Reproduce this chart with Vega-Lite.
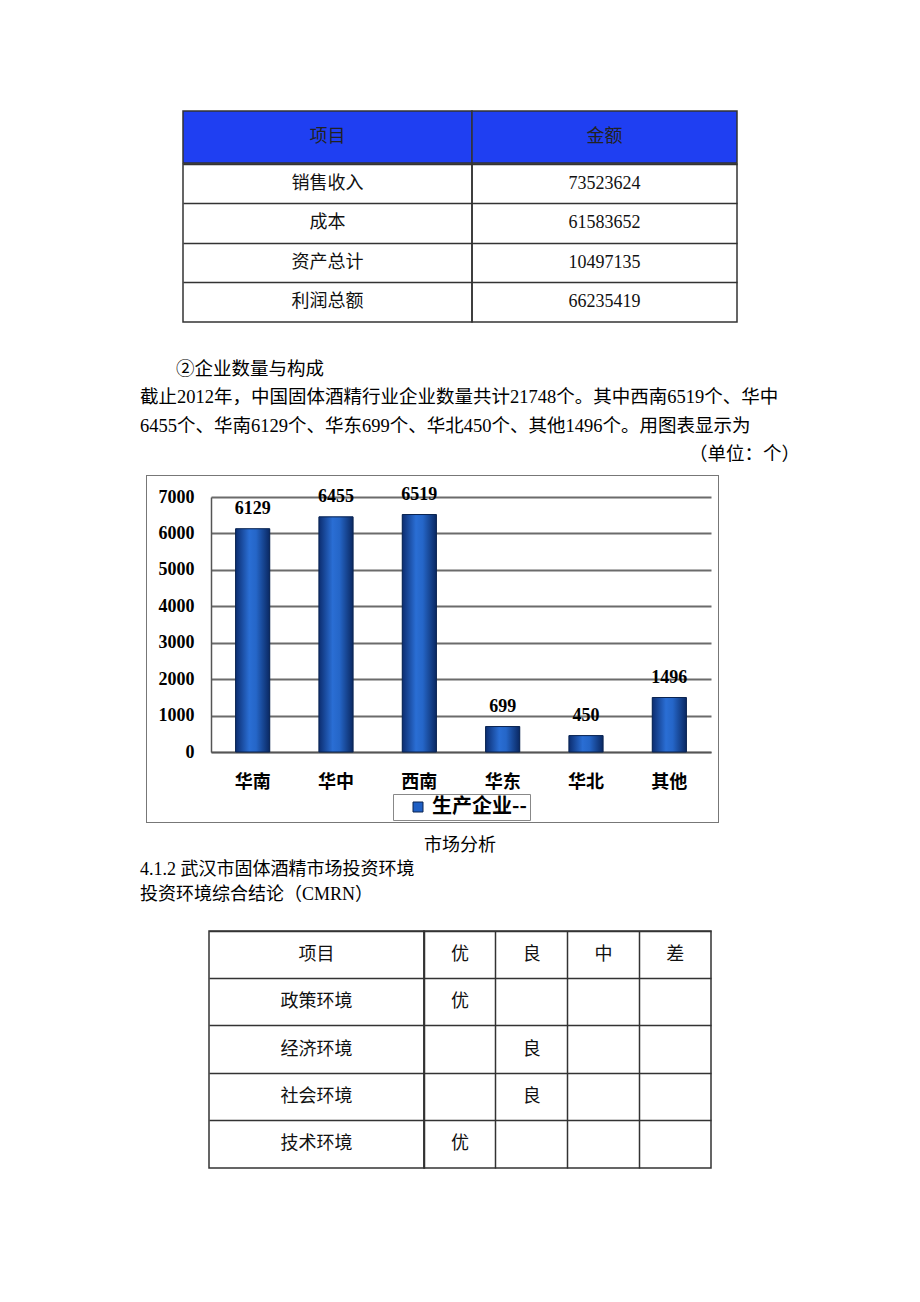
{
  "$schema": "https://vega.github.io/schema/vega-lite/v6.json",
  "background": "white",
  "padding": 0,
  "spacing": 0,
  "resolve": {"scale": {"color": "independent"}, "legend": {"color": "independent"}},
  "config": {
    "view": {"stroke": null},
    "legend": {"layout": {"bottom": {"anchor": "middle"}}}
  },
  "datasets": {
    "table1": [
      {"item": "销售收入", "amount": "73523624"},
      {"item": "成本", "amount": "61583652"},
      {"item": "资产总计", "amount": "10497135"},
      {"item": "利润总额", "amount": "66235419"}
    ],
    "companies": [
      {"region": "华南", "count": 6129, "series": "生产企业--"},
      {"region": "华中", "count": 6455, "series": "生产企业--"},
      {"region": "西南", "count": 6519, "series": "生产企业--"},
      {"region": "华东", "count": 699, "series": "生产企业--"},
      {"region": "华北", "count": 450, "series": "生产企业--"},
      {"region": "其他", "count": 1496, "series": "生产企业--"}
    ],
    "table2items": [
      {"item": "项目"}, {"item": "政策环境"}, {"item": "经济环境"}, {"item": "社会环境"}, {"item": "技术环境"}
    ],
    "table2cells": [
      {"item": "项目", "grade": "优", "v": "优"},
      {"item": "项目", "grade": "良", "v": "良"},
      {"item": "项目", "grade": "中", "v": "中"},
      {"item": "项目", "grade": "差", "v": "差"},
      {"item": "政策环境", "grade": "优", "v": "优"},
      {"item": "经济环境", "grade": "良", "v": "良"},
      {"item": "社会环境", "grade": "良", "v": "良"},
      {"item": "技术环境", "grade": "优", "v": "优"}
    ]
  },
  "vconcat": [
    {"width": 920, "height": 109.5, "data": {"values": []}, "mark": "point"},
    {
      "spacing": -3,
      "vconcat": [
        {
          "spacing": 0, "bounds": "flush",
          "hconcat": [
            {"width": 183, "height": 52, "data": {"values": []}, "mark": "point"},
            {"width": 289, "height": 52, "view": {"fill": "#1f3ff2", "stroke": "#333333", "strokeWidth": 1.5},
             "data": {"values": [{"h": "项目"}]},
             "mark": {"type": "text", "font": "Liberation Serif, Noto Sans CJK SC", "fontSize": 18, "color": "#222222"},
             "encoding": {"text": {"field": "h"}}},
            {"width": 265, "height": 52, "view": {"fill": "#1f3ff2", "stroke": "#333333", "strokeWidth": 1.5},
             "data": {"values": [{"h": "金额"}]},
             "mark": {"type": "text", "font": "Liberation Serif, Noto Sans CJK SC", "fontSize": 18, "color": "#222222"},
             "encoding": {"text": {"field": "h"}}}
          ]
        },
        {
          "spacing": 0, "bounds": "flush",
          "hconcat": [
            {"width": 183, "height": 158, "data": {"values": []}, "mark": "point"},
            {"width": 289, "height": 158, "view": {"stroke": "#333333", "strokeWidth": 1.5},
             "data": {"name": "table1"},
             "mark": {"type": "text", "font": "Liberation Serif, Noto Sans CJK SC", "fontSize": 18, "color": "#111111"},
             "encoding": {
               "y": {"field": "item", "type": "nominal", "sort": null,
                     "scale": {"type": "band", "paddingInner": 0, "paddingOuter": 0},
                     "axis": {"title": null, "labels": false, "ticks": false, "domain": false, "grid": true, "bandPosition": 0, "gridColor": "#333333", "gridWidth": 1.5}},
               "text": {"field": "item"}
             }},
            {"width": 265, "height": 158, "view": {"stroke": "#333333", "strokeWidth": 1.5},
             "data": {"name": "table1"},
             "mark": {"type": "text", "font": "Liberation Serif, Noto Sans CJK SC", "fontSize": 18, "color": "#111111"},
             "encoding": {
               "y": {"field": "item", "type": "nominal", "sort": null,
                     "scale": {"type": "band", "paddingInner": 0, "paddingOuter": 0},
                     "axis": {"title": null, "labels": false, "ticks": false, "domain": false, "grid": true, "bandPosition": 0, "gridColor": "#333333", "gridWidth": 1.5}},
               "text": {"field": "amount"}
             }}
          ]
        }
      ]
    },
    {"width": 920, "height": 31.5, "data": {"values": []}, "mark": "point"},
    {
      "spacing": 0, "bounds": "flush",
      "hconcat": [
        {"width": 140, "height": 113, "data": {"values": []}, "mark": "point"},
        {
          "width": 660, "height": 113,
          "encoding": {
            "y": {"field": "n", "type": "ordinal", "scale": {"type": "band", "paddingInner": 0, "paddingOuter": 0, "domain": [1, 2, 3, 4]}, "axis": null},
            "text": {"field": "t"}
          },
          "layer": [
            {
              "data": {"values": [{"n": 1, "t": "②企业数量与构成"}]},
              "mark": {"type": "text", "align": "left", "dx": 36, "font": "Liberation Serif, Noto Sans CJK SC", "fontSize": 18.5, "color": "#000000"},
              "encoding": {"x": {"value": 0}}
            },
            {
              "data": {"values": [
                {"n": 2, "t": "截止2012年，中国固体酒精行业企业数量共计21748个。其中西南6519个、华中"},
                {"n": 3, "t": "6455个、华南6129个、华东699个、华北450个、其他1496个。用图表显示为"}
              ]},
              "mark": {"type": "text", "align": "left", "font": "Liberation Serif, Noto Sans CJK SC", "fontSize": 18.5, "color": "#000000"},
              "encoding": {"x": {"value": 0}}
            },
            {
              "data": {"values": [{"n": 4, "t": "（单位：个）"}]},
              "mark": {"type": "text", "align": "right", "font": "Liberation Serif, Noto Sans CJK SC", "fontSize": 18.5, "color": "#000000"},
              "encoding": {"x": {"value": "width"}}
            }
          ]
        }
      ]
    },
    {"width": 920, "height": 7, "data": {"values": []}, "mark": "point"},
    {
      "spacing": 0, "bounds": "flush",
      "hconcat": [
        {"width": 146, "height": 1, "data": {"values": []}, "mark": "point"},
        {"width": 573, "height": 1, "view": {"fill": "#777777"}, "data": {"values": []}, "mark": "point"}
      ]
    },
    {
      "spacing": 0,
      "resolve": {"scale": {"color": "independent"}, "legend": {"color": "independent"}},
      "hconcat": [
        {"width": 146, "height": 346, "data": {"values": []}, "mark": "point"},
        {"width": 1, "height": 346, "view": {"fill": "#777777"}, "data": {"values": []}, "mark": "point"},
        {"width": 10.5, "height": 346, "data": {"values": []}, "mark": "point"},
        {
          "spacing": 0, "bounds": "flush",
          "resolve": {"scale": {"color": "independent"}, "legend": {"color": "independent"}},
          "vconcat": [
            {"width": 500, "height": 21, "data": {"values": []}, "mark": "point"},
            {
              "width": 500, "height": 255,
              "data": {"name": "companies"},
              "encoding": {
                "x": {"field": "region", "type": "nominal", "sort": null,
                      "scale": {"paddingInner": 0.59, "paddingOuter": 0.295},
                      "axis": {"title": null, "labelAngle": 0, "labelFont": "Noto Sans CJK SC", "labelFontSize": 18, "labelFontWeight": "bold", "labelColor": "#000000", "labelPadding": 21, "ticks": false, "domainColor": "#555555", "domainWidth": 1.5, "grid": false}},
                "y": {"field": "count", "type": "quantitative",
                      "scale": {"domain": [0, 7000], "nice": false},
                      "axis": {"title": null, "values": [0, 1000, 2000, 3000, 4000, 5000, 6000, 7000], "format": "d", "labelFont": "Liberation Serif", "labelFontSize": 18, "labelFontWeight": "bold", "labelColor": "#000000", "labelPadding": 17, "ticks": false, "domainColor": "#555555", "domainWidth": 1.5, "grid": true, "gridColor": "#6b6b6b", "gridWidth": 2}}
              },
              "layer": [
                {
                  "mark": {"type": "bar"},
                  "encoding": {
                    "color": {"field": "series", "type": "nominal",
                              "scale": {"range": ["#1f5fc4"]},
                              "legend": {"orient": "bottom", "title": null, "symbolType": "square", "symbolSize": 100, "symbolStrokeColor": "#0b2450", "symbolStrokeWidth": 1, "symbolOffset": 12, "labelFont": "Noto Sans CJK SC", "labelFontSize": 20, "labelFontWeight": "bold", "labelColor": "#000000", "labelOffset": 4, "labelLimit": 300, "strokeColor": "#888888", "padding": 3, "offset": 3}}
                  }
                },
                {
                  "mark": {"type": "bar", "stroke": "#0b2450", "strokeWidth": 1,
                           "fill": {"gradient": "linear", "x1": 0, "y1": 0, "x2": 1, "y2": 0, "stops": [{"offset": 0, "color": "#0c2d70"}, {"offset": 0.4, "color": "#2a6ed4"}, {"offset": 0.6, "color": "#2566c8"}, {"offset": 1, "color": "#0a2862"}]}}
                },
                {
                  "mark": {"type": "text", "dy": -20, "font": "Liberation Serif", "fontSize": 18, "fontWeight": "bold", "color": "#000000"},
                  "encoding": {"text": {"field": "count", "type": "quantitative", "format": "d"}}
                }
              ]
            },
            {"width": 500, "height": 70, "data": {"values": []}, "mark": "point"}
          ]
        },
        {"width": 7, "height": 346, "data": {"values": []}, "mark": "point"},
        {"width": 1, "height": 346, "view": {"fill": "#777777"}, "data": {"values": []}, "mark": "point"}
      ]
    },
    {
      "spacing": 0, "bounds": "flush",
      "hconcat": [
        {"width": 146, "height": 1, "data": {"values": []}, "mark": "point"},
        {"width": 573, "height": 1, "view": {"fill": "#777777"}, "data": {"values": []}, "mark": "point"}
      ]
    },
    {"width": 920, "height": 11, "data": {"values": []}, "mark": "point"},
    {"width": 920, "height": 24,
     "data": {"values": [{"t": "市场分析"}]},
     "mark": {"type": "text", "font": "Liberation Serif, Noto Sans CJK SC", "fontSize": 18, "color": "#000000"},
     "encoding": {"text": {"field": "t"}}},
    {
      "spacing": 0, "bounds": "flush",
      "hconcat": [
        {"width": 140, "height": 49, "data": {"values": []}, "mark": "point"},
        {"width": 780, "height": 49,
         "data": {"values": [
           {"n": 1, "t": "4.1.2 武汉市固体酒精市场投资环境"},
           {"n": 2, "t": "投资环境综合结论（CMRN）"}
         ]},
         "mark": {"type": "text", "align": "left", "font": "Liberation Serif, Noto Sans CJK SC", "fontSize": 18, "color": "#000000"},
         "encoding": {
           "x": {"value": 0},
           "y": {"field": "n", "type": "ordinal", "scale": {"type": "band", "paddingInner": 0, "paddingOuter": 0}, "axis": null},
           "text": {"field": "t"}
         }}
      ]
    },
    {"width": 920, "height": 22.5, "data": {"values": []}, "mark": "point"},
    {
      "spacing": 0, "bounds": "flush",
      "hconcat": [
        {"width": 209, "height": 237, "data": {"values": []}, "mark": "point"},
        {"width": 215, "height": 237, "view": {"stroke": "#333333", "strokeWidth": 1.5},
         "data": {"name": "table2items"},
         "mark": {"type": "text", "font": "Liberation Serif, Noto Sans CJK SC", "fontSize": 18, "color": "#111111"},
         "encoding": {
           "y": {"field": "item", "type": "nominal", "sort": null,
                 "scale": {"type": "band", "paddingInner": 0, "paddingOuter": 0, "domain": ["项目", "政策环境", "经济环境", "社会环境", "技术环境"]},
                 "axis": {"title": null, "labels": false, "ticks": false, "domain": false, "grid": true, "bandPosition": 0, "gridColor": "#333333", "gridWidth": 1.5}},
           "text": {"field": "item"}
         }},
        {"width": 287, "height": 237, "view": {"stroke": "#333333", "strokeWidth": 1.5},
         "data": {"name": "table2cells"},
         "mark": {"type": "text", "font": "Liberation Serif, Noto Sans CJK SC", "fontSize": 18, "color": "#111111"},
         "encoding": {
           "x": {"field": "grade", "type": "nominal",
                 "scale": {"type": "band", "paddingInner": 0, "paddingOuter": 0, "domain": ["优", "良", "中", "差"]},
                 "axis": {"title": null, "labels": false, "ticks": false, "domain": false, "grid": true, "bandPosition": 0, "gridColor": "#333333", "gridWidth": 1.5}},
           "y": {"field": "item", "type": "nominal",
                 "scale": {"type": "band", "paddingInner": 0, "paddingOuter": 0, "domain": ["项目", "政策环境", "经济环境", "社会环境", "技术环境"]},
                 "axis": {"title": null, "labels": false, "ticks": false, "domain": false, "grid": true, "bandPosition": 0, "gridColor": "#333333", "gridWidth": 1.5}},
           "text": {"field": "v"}
         }}
      ]
    },
    {"width": 920, "height": 133.5, "data": {"values": []}, "mark": "point"}
  ]
}
